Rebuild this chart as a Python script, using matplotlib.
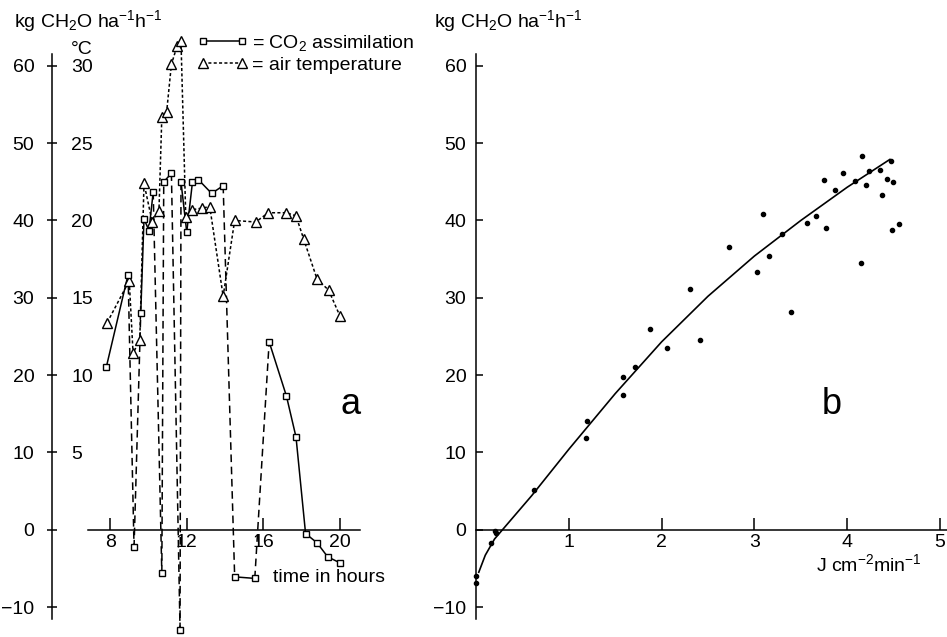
import matplotlib
matplotlib.use('Agg')
import matplotlib.pyplot as plt
from matplotlib.lines import Line2D

plt.rcParams['font.family'] = ['Liberation Sans', 'DejaVu Sans']
plt.rcParams['mathtext.fontset'] = 'custom'
plt.rcParams['mathtext.rm'] = 'Liberation Sans'
plt.rcParams['mathtext.default'] = 'regular'

# panel a: CO2 assimilation (kg CH2O/ha/h) and air temperature (deg C) during the day
co2_hours = [7.8, 8.94, 9.25, 9.6, 9.77, 10.03, 10.25, 10.7, 10.8, 11.2, 11.65, 11.7, 12.0,
             12.3, 12.6, 13.3, 13.9, 14.5, 15.55, 16.3, 17.2, 17.7, 18.2, 18.8, 19.35, 20.0]
co2_values = [21.0, 33.0, -2.3, 28.0, 40.2, 38.7, 43.7, -5.6, 45.0, 46.1, -13.0, 45.0, 38.5,
              45.0, 45.3, 43.5, 44.5, -6.1, -6.3, 24.3, 17.3, 12.0, -0.5, -1.7, -3.5, -4.3]

temp_hours = [7.85, 9.0, 9.2, 9.55, 9.77, 10.2, 10.55, 10.7, 10.95, 11.2, 11.5, 11.7, 11.95,
              12.3, 12.8, 13.2, 13.9, 14.5, 15.6, 16.25, 17.2, 17.7, 18.1, 18.8, 19.4, 20.0]
temp_values = [13.4, 16.1, 11.4, 12.3, 22.4, 19.9, 20.6, 26.7, 27.0, 30.1, 31.3, 31.6, 20.2,
               20.7, 20.8, 20.9, 15.1, 20.0, 19.9, 20.5, 20.5, 20.3, 18.8, 16.2, 15.5, 13.8]

hour_ticks = [8, 12, 16, 20]
kg_ticks = [-10, 0, 10, 20, 30, 40, 50, 60]
temp_ticks = [5, 10, 15, 20, 25, 30]

# panel b: assimilation vs irradiance
irradiance = [4.16, 4.47, 3.96, 4.24, 4.35, 3.75, 4.08, 4.20, 4.43, 4.49, 3.87, 4.37, 3.09,
              3.66, 3.57, 3.77, 4.48, 4.56, 3.30, 2.73, 3.16, 3.03, 4.15, 2.31, 3.39, 1.87,
              2.06, 2.41, 1.71, 1.58, 1.58, 1.20, 1.18, 0.62, 0.22, 0.21, 0.16, 0.0, 0.0]
assimilation = [48.4, 47.7, 46.2, 46.4, 46.5, 45.2, 45.1, 44.6, 45.4, 45.0, 44.0, 43.3, 40.8,
                40.6, 39.7, 39.0, 38.8, 39.5, 38.2, 36.6, 35.4, 33.3, 34.5, 31.2, 28.1, 26.0,
                23.5, 24.5, 21.1, 19.8, 17.4, 14.0, 11.9, 5.1, -0.4, -0.2, -1.7, -6.0, -6.9]
curve_x = [0.03, 0.1, 0.2, 0.3, 0.6, 1.0, 1.5, 2.0, 2.5, 3.0, 3.5, 4.0, 4.46]
curve_y = [-5.5, -3.3, -1.2, 0.2, 4.4, 10.4, 17.6, 24.3, 30.2, 35.4, 40.0, 44.3, 47.9]
irr_ticks = [1, 2, 3, 4, 5]

W, H = 947, 637
fig = plt.figure(figsize=(W / 100, H / 100), dpi=100)
fig.patch.set_facecolor('white')

ylo, yhi = -13.88, 64.64
fs = 14

# ---------- panel a ----------
ax = fig.add_axes([52 / W, 0, (420 - 52) / W, (H - 30) / H])
ax.set_xlim(4.97, 24.17)
ax.set_ylim(ylo, yhi)
ax.patch.set_alpha(0)
for s in ['top', 'right']:
    ax.spines[s].set_visible(False)
ax.spines['bottom'].set_position(('data', 0))
ax.spines['bottom'].set_bounds(6.85, 21.05)
ax.spines['left'].set_bounds(-11.6, 61.5)
for s in ['bottom', 'left']:
    ax.spines[s].set_linewidth(1.1)
ax.set_xticks(hour_ticks)
ax.set_yticks(kg_ticks)
ax.tick_params(axis='x', direction='in', length=8.5, width=1.1, pad=3, labelsize=fs)
ax.tick_params(axis='y', direction='inout', length=7.5, width=1.1, pad=9, labelsize=fs)

# temperature scale shares the left axis line (1 deg C = 2 kg units)
axt = ax.twinx()
axt.set_ylim(ylo / 2, yhi / 2)
for s in axt.spines.values():
    s.set_visible(False)
axt.spines['right'].set_position(('axes', 0))
axt.set_yticks(temp_ticks)
axt.tick_params(axis='y', length=0, pad=14, labelsize=fs)

# CO2 assimilation: solid for steady changes, dashed for the big jumps
for i in range(len(co2_hours) - 1):
    jump = abs(co2_values[i + 1] - co2_values[i])
    ls = (0, (5, 3)) if jump > 15 else '-'
    ax.plot(co2_hours[i:i + 2], co2_values[i:i + 2], color='black', lw=1.1,
            linestyle=ls, clip_on=False, zorder=2)
ax.plot(co2_hours, co2_values, linestyle='none', marker='s', ms=5, mfc='white',
        mec='black', mew=1.0, clip_on=False, zorder=4)

ax.plot(temp_hours, [2 * t for t in temp_values], color='black', lw=1.1,
        linestyle=(0, (2, 1.5)), marker='^', ms=7, mfc='white', mec='black', mew=1.0,
        clip_on=False, zorder=3)

handles = [
    Line2D([], [], color='black', lw=1.1, marker='s', ms=5, mfc='white', mec='black'),
    Line2D([], [], color='black', lw=1.1, linestyle=(0, (2, 1.5)), marker='^', ms=7,
           mfc='white', mec='black'),
]
fig.legend(handles, ['= CO$_2$ assimilation', '= air temperature'],
           loc='upper left', bbox_to_anchor=(197 / W, 1 - 33 / H), frameon=False,
           numpoints=2, handlelength=2.6, handletextpad=0.25, labelspacing=0.15,
           borderpad=0, borderaxespad=0, fontsize=fs)

fig.text(14 / W, 1 - 21 / H, r'kg CH$_2$O ha$^{-1}$h$^{-1}$', fontsize=fs, va='center', ha='left')
fig.text(82 / W, 1 - 49 / H, '°C', fontsize=fs, va='center', ha='center')
fig.text(273 / W, 1 - 578 / H, 'time in hours', fontsize=fs, va='center', ha='left')
fig.text(351 / W, 1 - 405 / H, 'a', fontsize=26, va='center', ha='center')

# ---------- panel b ----------
bx = fig.add_axes([476 / W, 0, (W - 476) / W, (H - 30) / H])
bx.set_xlim(0, 471 / 92.8)
bx.set_ylim(ylo, yhi)
bx.patch.set_alpha(0)
for s in ['top', 'right']:
    bx.spines[s].set_visible(False)
bx.spines['bottom'].set_position(('data', 0))
bx.spines['left'].set_bounds(-11.6, 61.5)
for s in ['bottom', 'left']:
    bx.spines[s].set_linewidth(1.1)
bx.set_xticks(irr_ticks)
bx.set_yticks(kg_ticks)
bx.tick_params(axis='x', direction='in', length=8.5, width=1.1, pad=3, labelsize=fs)
bx.tick_params(axis='y', direction='in', length=5, width=1.1, pad=7, labelsize=fs)

bx.plot(curve_x, curve_y, color='black', lw=1.2, clip_on=False)
bx.plot(irradiance, assimilation, linestyle='none', marker='o', ms=3, color='black',
        clip_on=False)

fig.text(434 / W, 1 - 21 / H, r'kg CH$_2$O ha$^{-1}$h$^{-1}$', fontsize=fs, va='center', ha='left')
fig.text(869 / W, 1 - 564 / H, r'J cm$^{-2}$min$^{-1}$', fontsize=fs, va='center', ha='center')
fig.text(832 / W, 1 - 405 / H, 'b', fontsize=26, va='center', ha='center')

fig.savefig('out.png', dpi=100, facecolor='white')
